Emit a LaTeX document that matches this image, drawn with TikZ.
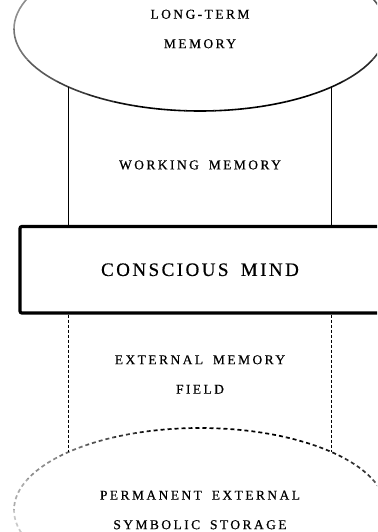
\documentclass[tikz,border=0pt]{standalone}
\usepackage{fontspec}
\setmainfont{Liberation Serif}[FakeBold=0.5,WordSpace=1.7]
\usetikzlibrary{shapes.geometric}

\tikzset{
  caption/.style={align=center,inner sep=0pt,
    font=\fontsize{13.5}{29.5}\selectfont\addfontfeature{LetterSpace=18}},
  store/.style={ellipse,inner sep=0pt,outer sep=0pt,
    minimum width=372,minimum height=164},
  wall/.style={line width=1.8},
  dotwall/.style={line width=1.8,dash pattern=on 3 off 2},
}

\begin{document}
\begin{tikzpicture}[x=1pt,y=-1pt]
  \useasboundingbox (0,0) rectangle (377,532);
  \clip (0,0) rectangle (377,532);

  % the two stores
  \node[store,caption] (ltm) at (200,29) {LONG-TERM\\MEMORY};
  \node[store,caption] (pes) at (200,510) {PERMANENT EXTERNAL\\SYMBOLIC STORAGE};

  % outlines fade to grey towards the left
  \foreach \a in {0,10,...,350}{
    \pgfmathsetmacro\k{max(15,min(100,60+60*cos(\a+5-80)))}
    \begin{scope}
      \clip (ltm.center) -- +(\a:600) -- +(\a+10:600) -- cycle;
      \draw[black!\k,line width=1.6] (ltm.center) ellipse [x radius=186,y radius=82];
    \end{scope}
    \pgfmathsetmacro\k{max(15,min(100,45+70*cos(\a+5-285)))}
    \begin{scope}
      \clip (pes.center) -- +(\a:600) -- +(\a+10:600) -- cycle;
      \draw[black!\k,line width=1.7,dash pattern=on 4 off 3]
        (pes.center) ellipse [x radius=186,y radius=82];
    \end{scope}
  }

  % the mind itself
  \node[draw,line width=3.2,rounded corners=2,minimum width=360,minimum height=86.5,
    font=\fontsize{19}{20}\selectfont\addfontfeature{LetterSpace=13}]
    (mind) at (200,269.75) {CONSCIOUS MIND};

  \node[caption] (wm) at (200,165) {WORKING MEMORY};
  \node[caption] (emf) at (200,374.5) {EXTERNAL MEMORY\\FIELD};

  \draw[wall] (ltm.south west) -- (ltm.south west |- mind.north);
  \draw[wall] (ltm.south east) -- (ltm.south east |- mind.north);
  \draw[dotwall] (mind.south -| pes.north west) -- (pes.north west);
  \draw[dotwall] (mind.south -| pes.north east) -- (pes.north east);
\end{tikzpicture}
\end{document}
